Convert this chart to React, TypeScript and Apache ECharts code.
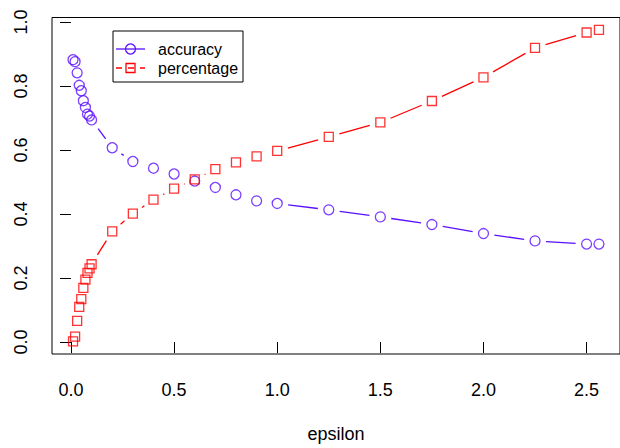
import React, { useEffect, useRef } from "react";
import * as echarts from "echarts";

const epsilon = [0.01, 0.02, 0.03, 0.04, 0.05, 0.06, 0.07, 0.08, 0.09, 0.1, 0.2, 0.3, 0.4, 0.5, 0.6, 0.7, 0.8, 0.9, 1.0, 1.25, 1.5, 1.75, 2.0, 2.25, 2.5, 2.56];
const accuracy = [0.882, 0.876, 0.841, 0.802, 0.785, 0.754, 0.733, 0.712, 0.706, 0.694, 0.607, 0.564, 0.543, 0.525, 0.503, 0.483, 0.46, 0.441, 0.433, 0.413, 0.391, 0.367, 0.339, 0.316, 0.306, 0.306];
const percentage = [0.002, 0.017, 0.066, 0.11, 0.134, 0.169, 0.195, 0.216, 0.23, 0.243, 0.346, 0.401, 0.445, 0.479, 0.508, 0.54, 0.561, 0.58, 0.597, 0.641, 0.686, 0.753, 0.827, 0.919, 0.967, 0.975];
const xTicks = [0, 0.5, 1.0, 1.5, 2.0, 2.5];
const yTicks = [0, 0.2, 0.4, 0.6, 0.8, 1.0];
const seriesNames = ["accuracy", "percentage"];

const BLUE = "#5a0fff";
const RED = "#ff0000";
const FONT = "Liberation Sans, Arial, Helvetica, sans-serif";
const GAP = 11;

function pairs(xs: number[], ys: number[]) {
  const out: number[][] = [];
  for (let i = 0; i < xs.length - 1; i++) out.push([xs[i], ys[i], xs[i + 1], ys[i + 1]]);
  return out;
}

function gappedSeries(name: string, xs: number[], ys: number[], color: string) {
  return {
    type: "custom",
    name,
    silent: true,
    data: pairs(xs, ys),
    encode: { x: [0, 2], y: [1, 3] },
    renderItem: (params: any, api: any) => {
      const p1 = api.coord([api.value(0), api.value(1)]);
      const p2 = api.coord([api.value(2), api.value(3)]);
      const dx = p2[0] - p1[0];
      const dy = p2[1] - p1[1];
      const len = Math.sqrt(dx * dx + dy * dy);
      if (len <= 2 * GAP) return null;
      const ux = dx / len;
      const uy = dy / len;
      return {
        type: "line",
        shape: {
          x1: p1[0] + ux * GAP,
          y1: p1[1] + uy * GAP,
          x2: p2[0] - ux * GAP,
          y2: p2[1] - uy * GAP,
        },
        style: { stroke: color, lineWidth: 1.3, fill: null },
      };
    },
  };
}

export default function App() {
  const ref = useRef<HTMLDivElement>(null);
  useEffect(() => {
    if (!ref.current) return;
    const chart = echarts.init(ref.current, undefined, { renderer: "svg" });
    const legendX = 113;
    const legendY = 31;
    chart.setOption({
      animation: false,
      backgroundColor: "#ffffff",
      grid: {
        left: 52,
        top: 17.5,
        width: 572.7,
        height: 340.1,
        show: true,
        borderColor: "#000000",
        borderWidth: 1,
        backgroundColor: "transparent",
      },
      xAxis: {
        type: "value",
        min: -0.092,
        max: 2.662,
        name: "epsilon",
        nameLocation: "middle",
        nameGap: 71,
        nameTextStyle: { fontFamily: FONT, fontSize: 18, color: "#000" },
        axisLine: { show: false },
        splitLine: { show: false },
        axisTick: { show: true, length: 11, customValues: xTicks, lineStyle: { color: "#000", width: 1 } },
        axisLabel: {
          customValues: xTicks,
          margin: 27,
          fontFamily: FONT,
          fontSize: 18,
          color: "#000",
          formatter: (v: number) => v.toFixed(1),
        },
      },
      yAxis: {
        type: "value",
        min: -0.0374,
        max: 1.0139,
        axisLine: { show: false },
        splitLine: { show: false },
        axisTick: { show: true, length: 11, customValues: yTicks, lineStyle: { color: "#000", width: 1 } },
        axisLabel: {
          customValues: yTicks,
          rotate: 90,
          margin: 22,
          fontFamily: FONT,
          fontSize: 18,
          color: "#000",
          formatter: (v: number) => v.toFixed(1),
        },
      },
      series: [
        gappedSeries(seriesNames[0], epsilon, accuracy, BLUE),
        gappedSeries(seriesNames[1], epsilon, percentage, RED),
        {
          type: "scatter",
          name: seriesNames[0],
          silent: true,
          symbol: "circle",
          symbolSize: 10,
          data: epsilon.map((x, i) => [x, accuracy[i]]),
          itemStyle: { color: "rgba(0,0,0,0)", borderColor: BLUE, borderWidth: 1.3 },
        },
        {
          type: "scatter",
          name: seriesNames[1],
          silent: true,
          symbol: "rect",
          symbolSize: 9,
          data: epsilon.map((x, i) => [x, percentage[i]]),
          itemStyle: { color: "rgba(0,0,0,0)", borderColor: RED, borderWidth: 1.3 },
        },
      ],
      graphic: [
        {
          type: "rect",
          shape: { x: legendX, y: legendY, width: 130, height: 51 },
          style: { fill: "#fff", stroke: "#000", lineWidth: 1 },
          z: 10,
        },
        {
          type: "line",
          shape: { x1: 116, y1: 49, x2: 145, y2: 49 },
          style: { stroke: BLUE, lineWidth: 1.3 },
          z: 11,
        },
        {
          type: "circle",
          shape: { cx: 130.5, cy: 49, r: 5 },
          style: { fill: "none", stroke: BLUE, lineWidth: 1.3 },
          z: 12,
        },
        {
          type: "line",
          shape: { x1: 116, y1: 68, x2: 145, y2: 68 },
          style: { stroke: RED, lineWidth: 1.3, lineDash: [6, 6] },
          z: 11,
        },
        {
          type: "rect",
          shape: { x: 126, y: 63.5, width: 9, height: 9 },
          style: { fill: "none", stroke: RED, lineWidth: 1.3 },
          z: 12,
        },
        {
          type: "text",
          x: 158,
          y: 49,
          style: { text: seriesNames[0], font: `16px ${FONT}`, fill: "#000", textVerticalAlign: "middle" },
          z: 12,
        },
        {
          type: "text",
          x: 158,
          y: 68,
          style: { text: seriesNames[1], font: `16px ${FONT}`, fill: "#000", textVerticalAlign: "middle" },
          z: 12,
        },
      ],
    });
    return () => chart.dispose();
  }, []);
  return (
    <div
      ref={ref}
      style={{ position: "fixed", left: 0, top: 0, width: 620, height: 448, overflow: "hidden", background: "#fff" }}
    />
  );
}
